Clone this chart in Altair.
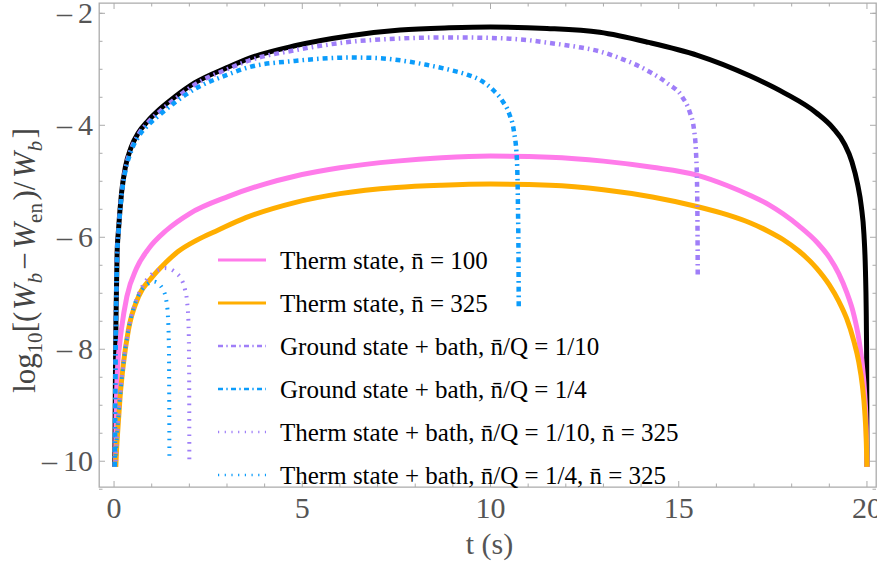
import altair as alt
import pandas as pd

# ---------------- data ----------------
t_black = [0.02, 0.035, 0.05, 0.08, 0.12, 0.2, 0.3, 0.45, 0.65, 0.9, 1.2, 1.6, 2.15, 3.0, 3.6, 4.8,
           6.27, 7.6, 8.9, 10.0, 11.5, 12.9, 14.2, 15.5, 16.9, 17.8, 18.66, 19.1, 19.4, 19.6,
           19.75, 19.85, 19.92, 19.96, 19.98, 19.99, 19.997, 20.0]
y_black = [-10.1, -8.6, -7.5, -6.3, -5.85, -5.2, -4.75, -4.4, -4.13, -3.92, -3.72, -3.5, -3.24,
           -2.97, -2.80, -2.58, -2.40, -2.30, -2.26, -2.245, -2.27, -2.34, -2.52, -2.75, -3.12,
           -3.42, -3.78, -4.05, -4.33, -4.65, -5.05, -5.45, -5.95, -6.6, -7.3, -8.0, -9.0, -10.1]

t_pink = [0.04, 0.055, 0.075, 0.1, 0.15, 0.2, 0.34, 0.6, 0.9, 1.4, 2.0, 3.04, 4.0, 4.8, 6.0, 7.5,
          8.7, 10.0, 11.58, 13.0, 14.3, 15.48, 16.3, 16.89, 17.4, 17.77, 18.2, 18.66, 19.0, 19.25,
          19.46, 19.65, 19.78, 19.88, 19.94, 19.98, 20.0]
y_pink = [-10.1, -9.2, -8.6, -8.25, -7.9, -7.62, -7.06, -6.55, -6.22, -5.87, -5.58, -5.27, -5.05,
          -4.91, -4.76, -4.64, -4.58, -4.55, -4.57, -4.64, -4.75, -4.89, -5.08, -5.25, -5.42,
          -5.58, -5.8, -6.08, -6.36, -6.65, -6.98, -7.38, -7.8, -8.3, -8.8, -9.4, -10.1]

t_orange = [0.045, 0.07, 0.1, 0.16, 0.25, 0.38, 0.65, 1.0, 1.36, 1.71, 2.2, 2.77, 3.5, 4.8, 6.0,
            7.5, 8.7, 10.0, 11.58, 13.0, 14.3, 15.48, 16.3, 16.89, 17.4, 17.77, 18.2, 18.66, 19.0,
            19.25, 19.46, 19.65, 19.78, 19.88, 19.94, 19.98, 20.0]
y_orange = [-10.1, -9.75, -9.44, -8.85, -8.25, -7.66, -7.06, -6.72, -6.46, -6.25, -6.05, -5.87,
            -5.65, -5.38, -5.22, -5.11, -5.07, -5.05, -5.07, -5.15, -5.28, -5.45, -5.6, -5.74,
            -5.9, -6.04, -6.25, -6.55, -6.85, -7.14, -7.45, -7.85, -8.22, -8.66, -9.1, -9.6,
            -10.1]

t_gs10 = [0.02, 0.035, 0.05, 0.08, 0.12, 0.2, 0.3, 0.45, 0.65, 0.9, 1.2, 1.6, 2.15, 3.0, 3.6, 4.8,
          6.27, 7.6, 8.9, 10.0, 11.0, 11.58, 12.3, 12.9, 13.35, 13.8, 14.24, 14.7, 15.1, 15.3,
          15.4, 15.46, 15.49, 15.5, 15.505]
y_gs10 = [-10.1, -8.6, -7.5, -6.3, -5.87, -5.22, -4.78, -4.43, -4.16, -3.95, -3.76, -3.54, -3.27,
          -3.0, -2.84, -2.66, -2.51, -2.45, -2.43, -2.44, -2.48, -2.53, -2.6, -2.68, -2.78, -2.9,
          -3.05, -3.25, -3.5, -3.78, -4.05, -4.5, -5.2, -6.0, -6.71]

t_gs4 = [0.02, 0.035, 0.05, 0.08, 0.12, 0.2, 0.3, 0.45, 0.65, 0.9, 1.2, 1.6, 2.15, 3.0, 3.6, 4.8,
         5.5, 6.27, 7.0, 7.6, 8.3, 8.92, 9.4, 9.72, 10.07, 10.3, 10.5, 10.62, 10.7, 10.73, 10.745,
         10.75]
y_gs4 = [-10.1, -8.6, -7.5, -6.35, -5.9, -5.25, -4.82, -4.47, -4.2, -4.0, -3.82, -3.6, -3.35,
         -3.1, -2.96, -2.85, -2.81, -2.79, -2.8, -2.84, -2.92, -3.01, -3.1, -3.19, -3.37, -3.55,
         -3.8, -4.1, -4.6, -5.5, -6.5, -7.3]

t_tb10 = [0.045, 0.07, 0.1, 0.16, 0.25, 0.38, 0.55, 0.75, 1.0, 1.2, 1.35, 1.5, 1.65, 1.78, 1.88,
          1.94, 1.98, 1.995, 2.0]
y_tb10 = [-10.0, -9.7, -9.4, -8.85, -8.25, -7.66, -7.2, -6.88, -6.66, -6.58, -6.55, -6.57, -6.64,
          -6.74, -6.92, -7.15, -7.6, -8.5, -10.0]

t_tb4 = [0.045, 0.07, 0.1, 0.16, 0.25, 0.38, 0.55, 0.75, 0.9, 1.05, 1.18, 1.3, 1.38, 1.43, 1.455,
         1.465, 1.47]
y_tb4 = [-9.9, -9.6, -9.35, -8.85, -8.25, -7.66, -7.2, -6.93, -6.83, -6.79, -6.83, -6.94, -7.1,
         -7.4, -7.9, -8.8, -9.9]

legend_labels = [
    "Therm state, n\u0304 = 100",
    "Therm state, n\u0304 = 325",
    "Ground state + bath, n\u0304/Q = 1/10",
    "Ground state + bath, n\u0304/Q = 1/4",
    "Therm state + bath, n\u0304/Q = 1/10, n\u0304 = 325",
    "Therm state + bath, n\u0304/Q = 1/4, n\u0304 = 325",
]

x_major = [0, 5, 10, 15, 20]
x_minor = [1, 2, 3, 4, 6, 7, 8, 9, 11, 12, 13, 14, 16, 17, 18, 19]
y_major = [-10, -8, -6, -4, -2]
y_minor = [-10.5, -9.5, -9, -8.5, -7.5, -7, -6.5, -5.5, -5, -4.5, -3.5, -3, -2.5, -2]
x_title = "t (s)"

# ---------------- styling ----------------
W, H = 777, 484
X_DOM = [-0.4, 20.24]
Y_DOM = [-10.46, -1.816]
SERIF = "Liberation Serif"
AX_COL = "#ababab"
LAB_COL = "#555555"
LAB_SIZE = 30

PINK = "#ff7bea"
ORANGE = "#ffae00"
PURPLE = "#9f7ef8"
BLUE = "#0b9cfb"

DASHDOT = [5, 4, 1.6, 4]
DOTTED = [1.6, 6.1]

xs = alt.Scale(domain=X_DOM, nice=False, zero=False)
ysc = alt.Scale(domain=Y_DOM, nice=False, zero=False)


def X(field="t"):
    return alt.X(f"{field}:Q", scale=xs, axis=None)


def Y(field="y"):
    return alt.Y(f"{field}:Q", scale=ysc, axis=None)


def num_label(v):
    return ("\u2013\u2009" + str(abs(v))) if v < 0 else str(v)


series = [
    (t_black, y_black, "#000000", 5, None),
    (t_pink, y_pink, PINK, 5, None),
    (t_orange, y_orange, ORANGE, 5, None),
    (t_gs10, y_gs10, PURPLE, 4.5, DASHDOT),
    (t_gs4, y_gs4, BLUE, 4.5, DASHDOT),
    (t_tb10, y_tb10, PURPLE, 4, DOTTED),
    (t_tb4, y_tb4, BLUE, 4, DOTTED),
]

layers = []


def xticks(vals, length):
    df = pd.DataFrame({"t": vals})
    bot = alt.Chart(df).mark_rule(color=AX_COL, strokeWidth=1).encode(
        x=X(), y=alt.value(H), y2=alt.value(H - length))
    top = alt.Chart(df).mark_rule(color=AX_COL, strokeWidth=1).encode(
        x=X(), y=alt.value(0), y2=alt.value(length))
    return [bot, top]


def yticks(vals, length):
    df = pd.DataFrame({"y": vals})
    left = alt.Chart(df).mark_rule(color=AX_COL, strokeWidth=1).encode(
        y=Y(), x=alt.value(0), x2=alt.value(length))
    right = alt.Chart(df).mark_rule(color=AX_COL, strokeWidth=1).encode(
        y=Y(), x=alt.value(W), x2=alt.value(W - length))
    return [left, right]


layers += xticks(x_major, 6) + xticks(x_minor, 3.5)
layers += yticks(y_major, 6) + yticks(y_minor, 3.5)

# tick labels as text marks
xl = pd.DataFrame({"t": x_major, "lab": [num_label(v) for v in x_major]})
layers.append(alt.Chart(xl).mark_text(
    font=SERIF, fontSize=LAB_SIZE, color=LAB_COL, align="center", baseline="alphabetic").encode(
    x=X(), y=alt.value(H + 31), text="lab:N"))
yl = pd.DataFrame({"y": y_major, "lab": [num_label(v) for v in y_major]})
layers.append(alt.Chart(yl).mark_text(
    font=SERIF, fontSize=LAB_SIZE, color=LAB_COL, align="right", baseline="alphabetic",
    dy=10).encode(
    y=Y(), x=alt.value(-6), text="lab:N"))
layers.append(alt.Chart(pd.DataFrame({"s": [x_title]})).mark_text(
    font=SERIF, fontSize=30, color=LAB_COL, align="center", baseline="alphabetic").encode(
    x=alt.value(W / 2 + 2), y=alt.value(H + 67), text="s:N"))

for ts, vs, color, width, dash in series:
    df = pd.DataFrame({"t": ts, "y": vs, "i": list(range(len(ts)))})
    kw = dict(color=color, strokeWidth=width, interpolate="monotone", strokeCap="butt",
              strokeJoin="round")
    if dash:
        kw["strokeDash"] = dash
    layers.append(alt.Chart(df).mark_line(**kw).encode(x=X(), y=Y(), order="i:Q"))

# legend (drawn inside the plot)
leg_styles = [
    (PINK, 3, None),
    (ORANGE, 3, None),
    (PURPLE, 2.6, [5, 3.3, 1.4, 3.3]),
    (BLUE, 2.6, [5, 3.3, 1.4, 3.3]),
    (PURPLE, 2.6, [1.2, 5.5]),
    (BLUE, 2.6, [1.2, 5.5]),
]
LEG_Y0, LEG_DY = 257, 43
for k, (label, (color, width, dash)) in enumerate(zip(legend_labels, leg_styles)):
    yy = LEG_Y0 + k * LEG_DY
    kw = dict(color=color, strokeWidth=width, strokeCap="butt")
    if dash:
        kw["strokeDash"] = dash
    ldf = pd.DataFrame({"label": [label]})
    layers.append(alt.Chart(ldf).mark_rule(**kw).encode(
        x=alt.value(119), x2=alt.value(167), y=alt.value(yy)))
    layers.append(alt.Chart(ldf).mark_text(
        font=SERIF, fontSize=25, color="#000000", align="left", baseline="middle").encode(
        text="label:N", x=alt.value(181), y=alt.value(yy + 1)))

# rotated y-axis title built from pieces (for subscripts / italics)
title_pieces = [
    ("log", 373, "normal", 31, 0),
    ("10", 343, "normal", 21, 7),
    ("[(", 322, "normal", 31, 0),
    ("W", 297, "italic", 31, 0),
    ("b", 278, "italic", 21, 7),
    ("\u2212", 261, "normal", 31, 0),
    ("W", 236, "italic", 31, 0),
    ("en", 213, "normal", 21, 7),
    (")/", 191, "normal", 31, 0),
    ("W", 165, "italic", 31, 0),
    ("b", 146, "italic", 21, 7),
    ("]", 133, "normal", 31, 0),
]
for txt, cy, style, size, shift in title_pieces:
    pdf = pd.DataFrame({"s": [txt]})
    layers.append(alt.Chart(pdf).mark_text(
        font=SERIF, fontSize=size, fontStyle=style, color="#444444", angle=270,
        align="center", baseline="alphabetic").encode(
        text="s:N", x=alt.value(-64 + shift), y=alt.value(cy - 3)))

chart = alt.layer(*layers).properties(
    width=W, height=H,
    autosize=alt.AutoSizeParams(type="none"),
    padding={"left": 99, "top": 3, "right": 1, "bottom": 83},
    background="white",
).configure_view(
    stroke=AX_COL, strokeWidth=1.3
)

chart.save("out.html", embed_options={"renderer": "svg", "actions": False})
